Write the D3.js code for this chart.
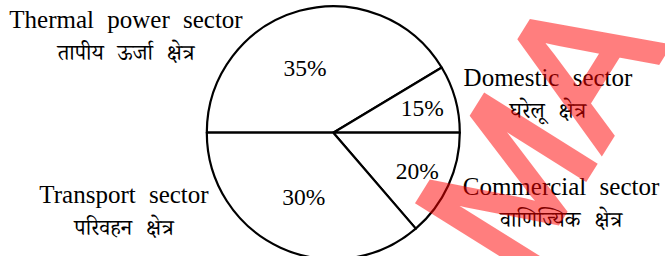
<!DOCTYPE html>
<html><head><meta charset="utf-8">
<script src="https://cdn.jsdelivr.net/npm/d3@7"></script>
<style>
html,body{margin:0;padding:0;background:#fff;}
svg{display:block;}
</style></head>
<body>
<svg id="chart" width="665" height="256"></svg>
<script>
// ---- data ----
const sectorsEn = ["Thermal power sector", "Domestic sector", "Commercial sector", "Transport sector"];
const sectorsHi = ["तापीय ऊर्जा क्षेत्र", "घरेलू क्षेत्र", "वाणिज्यिक क्षेत्र", "परिवहन क्षेत्र"];
const sectorPercent = [35, 15, 20, 30];
// the source drawing is not to scale: slice sizes as drawn (degrees of the circle)
const drawnDegrees = [149, 31, 49.3, 130.7];
const watermark = "MA";

const svg = d3.select("#chart");
const cx = 333.3, cy = 132.7, r = 126.5;
const serif = "'Liberation Serif','Times New Roman',serif";
const deva = "'Noto Serif Devanagari','Noto Sans Devanagari','Lohit Devanagari','FreeSerif',serif";

const data = sectorPercent.map((p, i) => ({p, deg: drawnDegrees[i], en: sectorsEn[i], hi: sectorsHi[i]}));
const pie = d3.pie().sort(null).value(d => d.deg)
  .startAngle(-Math.PI / 2).endAngle(3 * Math.PI / 2);
const arcs = pie(data);
const arc = d3.arc().innerRadius(0).outerRadius(r);

const g = svg.append("g").attr("transform", `translate(${cx},${cy})`);
g.selectAll("path.slice").data(arcs).join("path")
  .attr("class", "slice")
  .attr("d", arc)
  .attr("fill", "#fff")
  .attr("stroke", "#000")
  .attr("stroke-width", 2.2)
  .attr("stroke-linejoin", "round");

// label placement: large slices nearer the centre, thin slices further out
const labelR = d => (d.endAngle - d.startAngle) > Math.PI / 2 ? 0.56 * r : 0.73 * r;
const labelA = d => {
  const mid = (d.startAngle + d.endAngle) / 2;
  // wide upper slice: its label sits a little left of the angular middle
  return (d.endAngle - d.startAngle) > 2.5 ? mid - 0.14 : mid;
};
g.selectAll("text.pct").data(arcs).join("text")
  .attr("class", "pct")
  .attr("x", d => Math.sin(labelA(d)) * labelR(d))
  .attr("y", d => -Math.cos(labelA(d)) * labelR(d))
  .attr("dy", "0.35em")
  .attr("text-anchor", "middle")
  .attr("font-family", serif)
  .attr("font-size", 23.5)
  .text(d => d.data.p + "%");

// outside labels
const labelPos = [
  {x: 126, y: 28, hy: 60},
  {x: 548, y: 86, hy: 118},
  {x: 561, y: 195, hy: 227},
  {x: 124, y: 203, hy: 235}
];
const lab = svg.selectAll("g.lab").data(data).join("g").attr("class", "lab");
lab.append("text")
  .attr("x", (d, i) => labelPos[i].x)
  .attr("y", (d, i) => labelPos[i].y)
  .attr("text-anchor", "middle")
  .attr("font-family", serif)
  .attr("font-size", 25)
  .attr("word-spacing", 7)
  .text(d => d.en);
lab.append("text")
  .attr("x", (d, i) => labelPos[i].x)
  .attr("y", (d, i) => labelPos[i].hy)
  .attr("text-anchor", "middle")
  .attr("font-family", deva)
  .attr("font-size", 22)
  .attr("word-spacing", 8)
  .text(d => d.hi);

// watermark (semi-transparent overlay on top of everything)
svg.append("text")
  .attr("transform", "translate(519.5,283) rotate(-58)")
  .attr("font-family", "'Liberation Sans',Arial,sans-serif")
  .attr("font-size", 186)
  .attr("fill", "#ff0000")
  .attr("stroke", "#ff0000")
  .attr("stroke-width", 6)
  .attr("stroke-linejoin", "miter")
  .attr("opacity", 0.5)
  .text(watermark);
</script>
</body></html>
